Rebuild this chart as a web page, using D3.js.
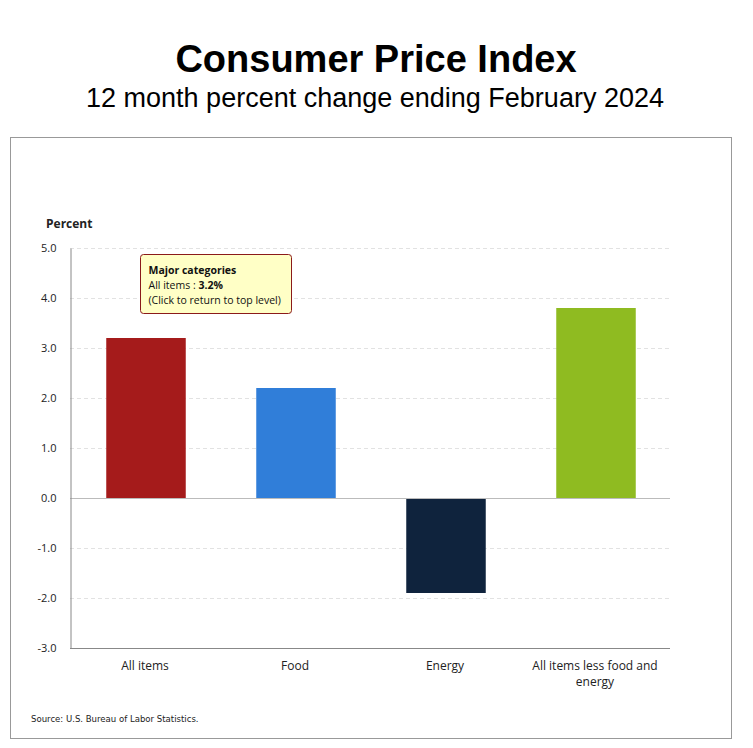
<!DOCTYPE html>
<html><head><meta charset="utf-8">
<script src="https://cdn.jsdelivr.net/npm/d3@7"></script>
<style>body{margin:0;background:#fff}svg{display:block}</style>
</head><body>
<script>
const categories = ["All items", "Food", "Energy", "All items less food and energy"];
const values = [3.2, 2.2, -1.9, 3.8];
const colors = ["#a51b1b", "#307ed9", "#0f233d", "#8fbb21"];
const yTicks = [-3, -2, -1, 0, 1, 2, 3, 4, 5];

const W = 753, H = 748;
const svg = d3.select("body").append("svg").attr("width", W).attr("height", H);

svg.append("text").attr("x", 376).attr("y", 72).attr("text-anchor", "middle")
  .attr("font-family", "Liberation Sans, Arial").attr("font-weight", "bold").attr("font-size", 38)
  .text("Consumer Price Index");
svg.append("text").attr("x", 375).attr("y", 107).attr("text-anchor", "middle")
  .attr("font-family", "Liberation Sans, Arial").attr("font-size", 27)
  .text("12 month percent change ending February 2024");

svg.append("rect").attr("x", 10.5).attr("y", 137.5).attr("width", 721).attr("height", 601)
  .attr("fill", "#fff").attr("stroke", "#999").attr("stroke-width", 1);

const x0 = 70, x1 = 670;
const x = d3.scaleBand().domain(categories).range([x0, x1]).paddingInner(0.47).paddingOuter(0.235);
const y = d3.scaleLinear().domain([-3, 5]).range([648, 248]);

const font = "Open Sans, Noto Sans, sans-serif";

// gridlines
svg.append("g").selectAll("line").data(yTicks.filter(t => t !== 0 && t !== -3)).join("line")
  .attr("x1", x0).attr("x2", x1).attr("y1", d => y(d) + 0.5).attr("y2", d => y(d) + 0.5)
  .attr("stroke", "#e2e2e2").attr("stroke-dasharray", "4,3");

// bars
svg.append("g").selectAll("rect").data(values).join("rect")
  .attr("x", (d, i) => x(categories[i]) + 1)
  .attr("width", x.bandwidth())
  .attr("y", d => y(Math.max(0, d)))
  .attr("height", d => Math.abs(y(d) - y(0)))
  .attr("fill", (d, i) => colors[i]);

// zero line
svg.append("line").attr("x1", x0).attr("x2", x1).attr("y1", y(0) + 0.5).attr("y2", y(0) + 0.5)
  .attr("stroke", "#bbb");

// y axis
const yAxis = d3.axisLeft(y).tickValues(yTicks).tickFormat(d3.format(".1f")).tickSize(0).tickPadding(14);
const gy = svg.append("g").attr("transform", `translate(${x0 + 0.5},0)`).call(yAxis);
gy.select(".domain").attr("stroke", "#888");
gy.selectAll("text").attr("font-family", font).attr("font-size", 11).attr("fill", "#222")
  .text(d => d3.format(".1f")(d).replace("\u2212", "-"));

// x axis
const xAxis = d3.axisBottom(x).tickSize(0).tickPadding(13);
const gx = svg.append("g").attr("transform", `translate(0,${y(-3) + 0.5})`).call(xAxis);
gx.select(".domain").attr("stroke", "#888").attr("d", `M${x0},0H${x1}`);
gx.selectAll("text").attr("font-family", font).attr("font-size", 12).attr("fill", "#222")
  .each(function(d) {
    const t = d3.select(this);
    if (d.length > 20) {
      t.text(null);
      t.append("tspan").attr("x", 0).attr("dy", "0.71em").text("All items less food and");
      t.append("tspan").attr("x", 0).attr("dy", "1.3em").text("energy");
      t.attr("dy", null).attr("y", 13);
    }
  });

svg.append("text").attr("x", 46).attr("y", 228).attr("font-family", font)
  .attr("font-weight", "bold").attr("font-size", 12).attr("fill", "#222").text("Percent");

// tooltip
const tt = svg.append("g").attr("transform", "translate(140.5,254.5)");
tt.append("rect").attr("width", 151).attr("height", 59).attr("rx", 3)
  .attr("fill", "#ffffc6").attr("stroke", "#8b1a1a").attr("stroke-width", 1);
tt.append("text").attr("x", 8).attr("y", 19).attr("font-family", font).attr("font-size", 10.5)
  .attr("font-weight", "bold").attr("fill", "#111").text("Major categories");
const t2 = tt.append("text").attr("x", 8).attr("y", 34).attr("font-family", font).attr("font-size", 10.5).attr("fill", "#111");
t2.append("tspan").text(categories[0] + " : ");
t2.append("tspan").attr("font-weight", "bold").text(values[0].toFixed(1) + "%");
tt.append("text").attr("x", 8).attr("y", 49).attr("font-family", font).attr("font-size", 10.5)
  .attr("fill", "#111").text("(Click to return to top level)");

svg.append("text").attr("x", 31).attr("y", 722).attr("font-family", "DejaVu Sans Condensed, DejaVu Sans")
  .attr("font-size", 9.5).attr("fill", "#222").text("Source: U.S. Bureau of Labor Statistics.");
</script>
</body></html>
